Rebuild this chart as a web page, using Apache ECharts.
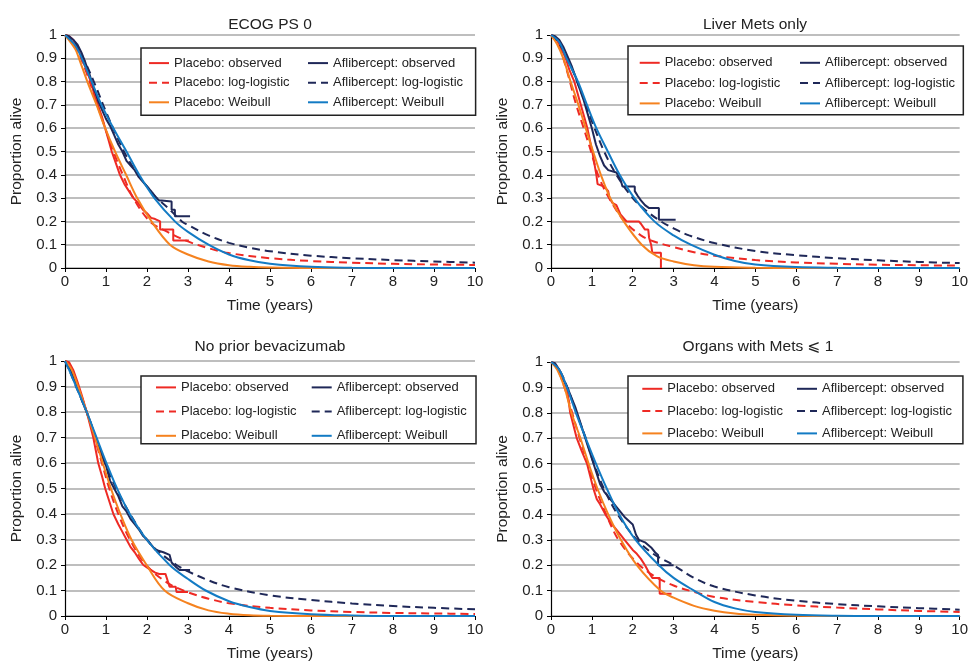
<!DOCTYPE html>
<html>
<head>
<meta charset="utf-8">
<title>Observed and extrapolated survival by subgroup</title>
<script src="https://cdn.jsdelivr.net/npm/echarts@6/dist/echarts.min.js"></script>
<style>
  html, body { margin: 0; padding: 0; background: #fff; }
  #chart { width: 971px; height: 664px; }
</style>
</head>
<body>
<div id="chart"></div>
<script>
// panel titles and series names
var panelTitles = ['ECOG PS 0', 'Liver Mets only', 'No prior bevacizumab', 'Organs with Mets \u2a7d 1'];
var seriesNames = ['Placebo: observed', 'Aflibercept: observed', 'Placebo: log-logistic',
                   'Aflibercept: log-logistic', 'Placebo: Weibull', 'Aflibercept: Weibull'];
var legendCol1 = ['Placebo: observed', 'Placebo: log-logistic', 'Placebo: Weibull'];
var legendCol2 = ['Aflibercept: observed', 'Aflibercept: log-logistic', 'Aflibercept: Weibull'];

// ECOG PS 0  [time (years), proportion alive]; repeated times mark the KM drops
var ecogPlaObs = [[0,1],[0.1,0.995],[0.2,0.98],[0.3,0.95],[0.41,0.9],[0.5,0.86],[0.63,0.8],[0.72,0.74],[0.8,0.7],[0.9,0.65],[0.98,0.6],[1.06,0.55],[1.14,0.5],[1.24,0.45],[1.34,0.4],[1.45,0.36],[1.56,0.33],[1.67,0.3],[1.78,0.28],[1.9,0.25],[2.0,0.235],[2.1,0.215],[2.2,0.21],[2.32,0.2],[2.32,0.165],[2.64,0.165],[2.64,0.118],[3.02,0.118]];
var ecogAflObs = [[0,1],[0.1,0.995],[0.2,0.98],[0.3,0.96],[0.4,0.925],[0.5,0.88],[0.6,0.83],[0.7,0.77],[0.8,0.72],[0.9,0.68],[1.0,0.64],[1.1,0.61],[1.2,0.57],[1.3,0.53],[1.4,0.5],[1.5,0.46],[1.6,0.44],[1.7,0.42],[1.8,0.39],[1.9,0.37],[2.0,0.35],[2.1,0.33],[2.2,0.305],[2.3,0.29],[2.36,0.29],[2.36,0.285],[2.6,0.285],[2.6,0.25],[2.68,0.25],[2.68,0.222],[3.05,0.222]];
var ecogPlaLL = [[0,1],[0.25,0.95],[0.5,0.85],[0.75,0.72],[1,0.59],[1.18,0.5],[1.41,0.4],[1.67,0.3],[2.07,0.2],[2.5,0.155],[3,0.114],[3.5,0.085],[4,0.064],[5,0.042],[6,0.03],[7,0.023],[8,0.018],[9,0.015],[10,0.013]];
var ecogAflLL = [[0,1],[0.25,0.965],[0.5,0.88],[0.75,0.78],[1,0.67],[1.25,0.57],[1.5,0.48],[1.78,0.4],[2,0.35],[2.24,0.3],[2.5,0.26],[2.85,0.2],[3,0.185],[3.5,0.14],[4,0.108],[4.5,0.087],[5,0.072],[6,0.053],[7,0.042],[8,0.034],[9,0.028],[10,0.023]];
var ecogPlaWb = [[0,1],[0.25,0.94],[0.34,0.9],[0.545,0.8],[0.77,0.7],[0.98,0.6],[1.22,0.5],[1.49,0.4],[1.76,0.3],[2.11,0.2],[2.56,0.1],[3,0.058],[3.5,0.028],[4,0.012],[4.5,0.005],[5,0.002],[6,0],[10,0]];
var ecogAflWb = [[0,1],[0.25,0.955],[0.41,0.9],[0.65,0.8],[0.89,0.7],[1.18,0.6],[1.5,0.5],[1.81,0.4],[2.18,0.3],[2.68,0.2],[3,0.155],[3.5,0.1],[4,0.058],[4.5,0.033],[5,0.018],[6,0.005],[7,0.001],[8,0],[10,0]];

// Liver Mets only
var livPlaObs = [[0,1],[0.1,0.99],[0.2,0.96],[0.36,0.9],[0.45,0.85],[0.57,0.8],[0.65,0.75],[0.73,0.7],[0.81,0.65],[0.89,0.6],[0.95,0.55],[1.01,0.5],[1.06,0.45],[1.11,0.4],[1.14,0.36],[1.3,0.35],[1.4,0.33],[1.43,0.3],[1.5,0.28],[1.6,0.27],[1.7,0.23],[1.8,0.21],[1.85,0.2],[2.15,0.2],[2.2,0.19],[2.3,0.165],[2.38,0.165],[2.4,0.13],[2.45,0.1],[2.48,0.065],[2.69,0.065],[2.69,0]];
var livAflObs = [[0,1],[0.1,0.995],[0.2,0.98],[0.3,0.95],[0.4,0.91],[0.5,0.87],[0.6,0.82],[0.7,0.77],[0.8,0.72],[0.9,0.66],[1.0,0.6],[1.1,0.53],[1.2,0.48],[1.3,0.44],[1.4,0.42],[1.6,0.41],[1.7,0.38],[1.75,0.35],[2.05,0.35],[2.05,0.33],[2.12,0.31],[2.2,0.29],[2.3,0.27],[2.4,0.257],[2.64,0.257],[2.64,0.207],[3.05,0.207]];
var livPlaLL = [[0,1],[0.2,0.95],[0.4,0.84],[0.6,0.71],[0.8,0.6],[0.98,0.5],[1.15,0.4],[1.42,0.3],[1.8,0.2],[2.2,0.14],[2.5,0.115],[3,0.09],[3.5,0.068],[4,0.053],[5,0.034],[6,0.024],[7,0.018],[8,0.014],[9,0.012],[10,0.01]];
var livAflLL = [[0,1],[0.25,0.95],[0.5,0.86],[0.75,0.75],[1,0.63],[1.3,0.5],[1.6,0.4],[2,0.3],[2.3,0.25],[2.69,0.2],[3,0.17],[3.38,0.14],[4,0.107],[5,0.073],[6,0.055],[7,0.042],[8,0.033],[9,0.026],[10,0.021]];
var livPlaWb = [[0,1],[0.15,0.96],[0.3,0.9],[0.48,0.8],[0.67,0.7],[0.85,0.6],[1.03,0.5],[1.22,0.4],[1.45,0.3],[1.78,0.2],[2.22,0.1],[2.6,0.05],[3,0.028],[3.5,0.012],[4,0.005],[5,0.001],[6,0],[10,0]];
var livAflWb = [[0,1],[0.2,0.97],[0.38,0.9],[0.66,0.8],[0.88,0.7],[1.11,0.6],[1.39,0.5],[1.68,0.4],[2.04,0.3],[2.53,0.2],[3,0.14],[3.42,0.1],[4,0.057],[4.5,0.03],[5,0.015],[6,0.004],[7,0.001],[8,0],[10,0]];

// No prior bevacizumab
var bevPlaObs = [[0,1],[0.1,0.995],[0.2,0.965],[0.3,0.92],[0.4,0.87],[0.53,0.8],[0.61,0.75],[0.69,0.7],[0.75,0.65],[0.81,0.6],[0.9,0.55],[0.98,0.5],[1.08,0.45],[1.18,0.4],[1.3,0.36],[1.4,0.33],[1.5,0.3],[1.6,0.27],[1.7,0.25],[1.8,0.225],[1.91,0.2],[2.05,0.185],[2.2,0.17],[2.3,0.165],[2.45,0.165],[2.5,0.14],[2.55,0.115],[2.7,0.115],[2.72,0.094],[3.0,0.094]];
var bevAflObs = [[0,1],[0.1,0.98],[0.2,0.94],[0.3,0.9],[0.4,0.85],[0.5,0.81],[0.6,0.77],[0.7,0.72],[0.8,0.67],[0.9,0.63],[1.0,0.59],[1.1,0.53],[1.2,0.5],[1.3,0.47],[1.4,0.43],[1.5,0.41],[1.6,0.38],[1.7,0.36],[1.8,0.34],[1.9,0.315],[2.0,0.3],[2.1,0.28],[2.2,0.26],[2.4,0.25],[2.55,0.24],[2.6,0.21],[2.72,0.19],[2.8,0.18],[3.05,0.18]];
var bevPlaLL = [[0,1],[0.15,0.975],[0.3,0.91],[0.53,0.8],[0.72,0.7],[0.9,0.6],[1.08,0.5],[1.3,0.4],[1.58,0.3],[1.98,0.2],[2.5,0.13],[3,0.093],[3.5,0.068],[4,0.05],[5,0.032],[6,0.022],[7,0.016],[8,0.012],[9,0.01],[10,0.008]];
var bevAflLL = [[0,1],[0.1,0.965],[0.27,0.9],[0.53,0.8],[0.77,0.69],[1,0.59],[1.25,0.5],[1.55,0.41],[1.99,0.3],[2.3,0.25],[2.72,0.2],[3,0.175],[3.5,0.14],[4,0.113],[5,0.081],[6,0.063],[7,0.049],[8,0.039],[9,0.032],[10,0.026]];
var bevPlaWb = [[0,1],[0.15,0.97],[0.32,0.9],[0.53,0.8],[0.73,0.7],[0.92,0.6],[1.12,0.5],[1.35,0.4],[1.62,0.3],[1.99,0.2],[2.43,0.1],[3,0.05],[3.5,0.022],[4,0.009],[4.5,0.003],[5,0.001],[6,0],[10,0]];
var bevAflWb = [[0,1],[0.1,0.965],[0.27,0.9],[0.53,0.8],[0.77,0.7],[1.01,0.6],[1.27,0.5],[1.58,0.4],[1.99,0.3],[2.55,0.2],[3,0.145],[3.43,0.1],[4,0.058],[4.5,0.035],[5,0.02],[6,0.007],[7,0.002],[8,0],[10,0]];

// Organs with Mets <= 1
var orgPlaObs = [[0,1],[0.1,0.99],[0.2,0.97],[0.3,0.935],[0.39,0.9],[0.43,0.85],[0.47,0.8],[0.55,0.75],[0.63,0.7],[0.75,0.65],[0.88,0.6],[0.96,0.55],[1.04,0.5],[1.12,0.46],[1.2,0.44],[1.33,0.4],[1.45,0.37],[1.6,0.34],[1.7,0.32],[1.8,0.3],[1.9,0.28],[2.0,0.26],[2.1,0.245],[2.2,0.225],[2.3,0.2],[2.4,0.17],[2.48,0.15],[2.66,0.15],[2.66,0.088],[2.95,0.088]];
var orgAflObs = [[0,1],[0.1,0.995],[0.2,0.97],[0.3,0.93],[0.4,0.9],[0.5,0.86],[0.6,0.82],[0.7,0.77],[0.8,0.72],[0.9,0.67],[1.0,0.62],[1.1,0.57],[1.2,0.52],[1.3,0.49],[1.4,0.47],[1.5,0.45],[1.6,0.43],[1.7,0.41],[1.8,0.39],[1.9,0.375],[2.0,0.36],[2.08,0.32],[2.15,0.3],[2.3,0.29],[2.45,0.27],[2.55,0.25],[2.62,0.24],[2.62,0.2],[3.0,0.2]];
var orgPlaLL = [[0,1],[0.15,0.975],[0.33,0.9],[0.5,0.81],[0.7,0.7],[0.9,0.6],[1.1,0.5],[1.35,0.4],[1.65,0.3],[2.1,0.21],[2.5,0.16],[3,0.12],[3.5,0.095],[4,0.075],[5,0.055],[6,0.042],[7,0.033],[8,0.026],[9,0.02],[10,0.016]];
var orgAflLL = [[0,1],[0.2,0.97],[0.4,0.9],[0.62,0.8],[0.85,0.7],[1.05,0.6],[1.3,0.5],[1.63,0.4],[2.1,0.3],[2.5,0.245],[3,0.2],[3.5,0.15],[4,0.116],[5,0.081],[6,0.06],[7,0.047],[8,0.038],[9,0.031],[10,0.025]];
var orgPlaWb = [[0,1],[0.15,0.97],[0.33,0.9],[0.5,0.8],[0.72,0.7],[0.92,0.6],[1.14,0.5],[1.4,0.4],[1.71,0.3],[2.1,0.2],[2.68,0.1],[3,0.072],[3.5,0.04],[4,0.021],[4.5,0.01],[5,0.005],[6,0.001],[7,0],[10,0]];
var orgAflWb = [[0,1],[0.2,0.97],[0.39,0.9],[0.61,0.8],[0.85,0.7],[1.1,0.6],[1.37,0.5],[1.67,0.4],[2.07,0.3],[2.64,0.2],[3,0.15],[3.5,0.1],[4,0.055],[4.5,0.03],[5,0.016],[6,0.005],[7,0.001],[8,0],[10,0]];

var panelData = [
  [ecogPlaObs, ecogAflObs, ecogPlaLL, ecogAflLL, ecogPlaWb, ecogAflWb],
  [livPlaObs, livAflObs, livPlaLL, livAflLL, livPlaWb, livAflWb],
  [bevPlaObs, bevAflObs, bevPlaLL, bevAflLL, bevPlaWb, bevAflWb],
  [orgPlaObs, orgAflObs, orgPlaLL, orgAflLL, orgPlaWb, orgAflWb]
];

var colors = ['#ee2a24', '#1f2858', '#ee2a24', '#1f2858', '#f5821f', '#137bc4'];
var dashed = [false, false, true, true, false, false];
var isObs = [true, true, false, false, false, false];

var font = '"Liberation Sans", Arial, "DejaVu Sans", sans-serif';

// layout for each panel (pixels)
var grids = [
  { left: 65, top: 35, width: 410, height: 233 },
  { left: 551, top: 35, width: 411, height: 233 },
  { left: 65, top: 361, width: 410, height: 255 },
  { left: 551, top: 362, width: 410, height: 254 }
];
var titlePos = [[270, 12], [755, 12], [270, 334], [758, 334]];
// left/top of the bordered legend box, x of second column, row gap, box padding
var legendPos = [
  { left: 141, top: 48, col2: 307, gap: 6.6, pad: [8.6, 186, 6.4, 7] },
  { left: 628, top: 46, col2: 799, gap: 7.3, pad: [10.3, 183, 4.8, 10.7] },
  { left: 141, top: 376, col2: 310.7, gap: 11.2, pad: [4.9, 179.4, 1.4, 14] },
  { left: 628, top: 376, col2: 796, gap: 9.3, pad: [6.3, 180, 3.8, 13.3] }
];

var option = {
  animation: false,
  backgroundColor: '#fff',
  textStyle: { fontFamily: font },
  title: [], grid: [], xAxis: [], yAxis: [], legend: [], series: []
};

function legendBase(names, left, top, gap, pad) {
  return {
    data: names,
    left: left, top: top,
    orient: 'vertical',
    padding: pad,
    itemGap: gap,
    itemWidth: 20, itemHeight: 14,
    itemStyle: { opacity: 0 },
    textStyle: { fontFamily: font, fontSize: 13, color: '#222' }
  };
}

for (var p = 0; p < 4; p++) {
  option.title.push({
    text: panelTitles[p],
    left: titlePos[p][0] - 5,
    top: titlePos[p][1],
    textAlign: 'center',
    textStyle: { fontFamily: font, fontSize: 15.5, fontWeight: 'normal', color: '#222' }
  });
  option.grid.push(grids[p]);
  option.xAxis.push({
    gridIndex: p, type: 'value', min: 0, max: 10, interval: 1,
    name: 'Time (years)', nameLocation: 'middle', nameGap: 30,
    nameTextStyle: { fontFamily: font, fontSize: 15.5, color: '#222' },
    axisLine: { lineStyle: { color: '#000', width: 1.2 } },
    axisTick: { show: true, length: 4, lineStyle: { color: '#000' } },
    axisLabel: { fontFamily: font, fontSize: 15, color: '#222', margin: 6 },
    splitLine: { show: false }
  });
  option.yAxis.push({
    gridIndex: p, type: 'value', min: 0, max: 1, interval: 0.1,
    name: 'Proportion alive', nameLocation: 'middle', nameGap: 40,
    nameTextStyle: { fontFamily: font, fontSize: 15.5, color: '#222' },
    axisLine: { show: true, lineStyle: { color: '#000', width: 1.2 } },
    axisTick: { show: true, length: 4, lineStyle: { color: '#000' } },
    axisLabel: { fontFamily: font, fontSize: 15, color: '#222', margin: 8 },
    splitLine: { show: true, lineStyle: { color: '#a9a9a9', width: 1.5 } }
  });
  var lp = legendPos[p];
  // first column carries the bordered box, widened by its right padding
  var l1 = legendBase(legendCol1, lp.left, lp.top, lp.gap, lp.pad);
  l1.backgroundColor = '#fff';
  l1.borderColor = '#222';
  l1.borderWidth = 1.5;
  l1.z = 4;
  var l2 = legendBase(legendCol2, lp.col2, lp.top + lp.pad[0], lp.gap, 0);
  l2.z = 5;
  option.legend.push(l1, l2);
  for (var s = 0; s < 6; s++) {
    var ser = {
      name: seriesNames[s],
      type: 'line',
      xAxisIndex: p, yAxisIndex: p,
      data: panelData[p][s],
      symbol: 'none',
      color: colors[s],
      lineStyle: { color: colors[s], width: 2, type: dashed[s] ? [8, 5] : 'solid' },
      z: 2 + s
    };
    if (!isObs[s]) {
      ser.smooth = 0.35;
    }
    option.series.push(ser);
  }
}

var chart = echarts.init(document.getElementById('chart'));
chart.setOption(option);
</script>
</body>
</html>
